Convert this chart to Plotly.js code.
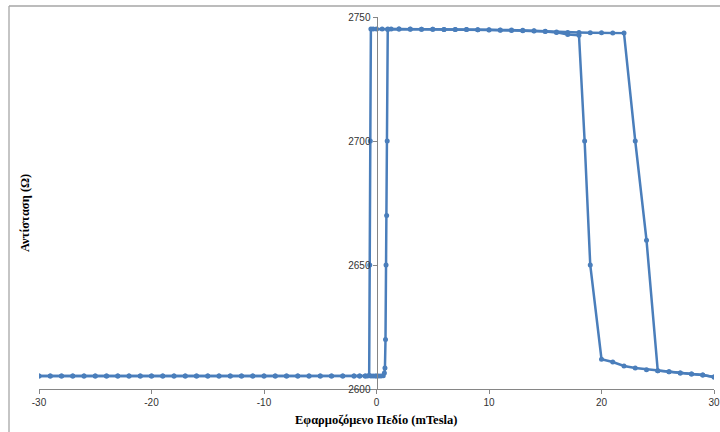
<!DOCTYPE html>
<html>
<head>
<meta charset="utf-8">
<script src="https://cdn.plot.ly/plotly-3.0.1.min.js"></script>
<style>html,body{margin:0;padding:0;background:#fff;}</style>
</head>
<body>
<div id="chart" style="width:720px;height:432px;"></div>
<script>
// Increasing field sweep
var upField = [-30,-29,-28,-27,-26,-25,-24,-23,-22,-21,-20,-19,-18,-17,-16,-15,-14,-13,-12,-11,-10,-9,-8,-7,-6,-5,-4,-3,-2,
  -1.5,-1,-0.5,-0.3,-0.1,0,0.2,0.4,0.6,
  0.7,0.75,0.8,0.85,0.9,0.95,1,1.3,
  2,3,4,5,6,7,8,9,10,11,12,13,14,15,16,17,18,19,20,21,22,23,24,25,26,27,28,29,30];
var upR = [2605.2,2605.2,2605.2,2605.2,2605.2,2605.2,2605.2,2605.2,2605.2,2605.2,2605.2,2605.2,2605.2,2605.2,2605.2,2605.2,2605.2,2605.2,2605.2,2605.2,2605.2,2605.2,2605.2,2605.2,2605.2,2605.2,2605.2,2605.2,2605.2,
  2605.2,2605.2,2605.2,2605.2,2605.2,2605.2,2605.2,2605.2,2605.3,
  2606.5,2608.5,2620,2650,2670,2700,2745,2745.2,
  2745.2,2745.2,2745.1,2745.1,2745,2745,2745,2744.9,2744.9,2744.8,2744.8,2744.7,2744.5,2744.3,2744,2743.8,2743.7,2743.6,2743.6,2743.5,2743.5,2700,2660,2607.4,2607,2606.5,2606,2605.6,2604.8];

// Decreasing field sweep
var downField = [30,29,28,27,26,25,24,23,22,21,20,
  19,18.5,
  18,17,16,15,14,13,12,11,10,9,8,7,6,5,4,3,2,
  1,0.5,0,-0.3,-0.5,
  -0.55,-0.6,-0.65,-0.8,-1,-1.5,
  -2,-3,-4,-5,-6,-7,-8,-9,-10,-11,-12,-13,-14,-15,-16,-17,-18,-19,-20,-21,-22,-23,-24,-25,-26,-27,-28,-29,-30];
var downR = [2604.8,2605.6,2606,2606.5,2607,2607.4,2607.8,2608.5,2609.3,2610.9,2612,
  2650,2700,
  2742.6,2742.9,2743.8,2744.2,2744.4,2744.5,2744.6,2744.7,2744.8,2744.9,2745,2745,2745,2745.1,2745.1,2745.1,2745.2,
  2745.2,2745.2,2745.2,2745.2,2745.2,
  2700,2650,2605.4,2605.2,2605.2,2605.2,
  2605.2,2605.2,2605.2,2605.2,2605.2,2605.2,2605.2,2605.2,2605.2,2605.2,2605.2,2605.2,2605.2,2605.2,2605.2,2605.2,2605.2,2605.2,2605.2,2605.2,2605.2,2605.2,2605.2,2605.2,2605.2,2605.2,2605.2,2605.2,2605.2];

var xTickVals = [-30,-20,-10,0,10,20,30];
var yTickVals = [2600,2650,2700,2750];
var xTitle = 'Εφαρμοζόμενο Πεδίο (mTesla)';
var yTitle = 'Αντίσταση (Ω)';

var lineColor = '#4A7EBB';
function sweep(x, y) {
  return {
    x: x, y: y, type: 'scatter', mode: 'lines+markers',
    line: {color: lineColor, width: 2.5},
    marker: {color: lineColor, size: 5, symbol: 'circle'},
    showlegend: false, hoverinfo: 'x+y'
  };
}

var L = 39, R = 6, T = 17, B = 43, W = 720, H = 432;
var pw = W - L - R, ph = H - T - B;
function px(p) { return (p - L) / pw; }
function py(p) { return 1 - (p - T) / ph; }

var axisGray = '#868686';
var layout = {
  width: W, height: H,
  margin: {l: L, r: R, t: T, b: B, pad: 0},
  paper_bgcolor: '#ffffff', plot_bgcolor: '#ffffff',
  font: {family: 'Liberation Sans, Arial, sans-serif', size: 10, color: '#333333'},
  xaxis: {
    range: [-30, 30], tickvals: xTickVals, ticktext: xTickVals.map(String),
    showgrid: false, zeroline: false, showline: true, linecolor: axisGray, linewidth: 1,
    ticks: 'outside', ticklen: 4, tickcolor: axisGray, tickfont: {size: 10, color: '#333333'}
  },
  yaxis: {
    range: [2600, 2750], tickvals: yTickVals, ticktext: yTickVals.map(String),
    anchor: 'free', position: 0.5,
    showgrid: false, zeroline: false, showline: true, linecolor: axisGray, linewidth: 1,
    ticks: 'outside', ticklen: 4, tickcolor: axisGray, tickfont: {size: 10, color: '#333333'}
  },
  annotations: [
    {text: '<b>' + xTitle + '</b>', xref: 'paper', yref: 'paper', x: px(376), y: py(420),
     xanchor: 'center', yanchor: 'middle', showarrow: false,
     font: {family: 'Liberation Serif, Times New Roman, serif', size: 12.5, color: '#000000'}},
    {text: '<b>' + yTitle + '</b>', xref: 'paper', yref: 'paper', x: px(25), y: py(213),
     xanchor: 'center', yanchor: 'middle', showarrow: false, textangle: -90,
     font: {family: 'Liberation Serif, Times New Roman, serif', size: 12.5, color: '#000000'}}
  ],
  shapes: [
    {type: 'line', xref: 'paper', yref: 'paper', x0: px(9), x1: px(9), y0: py(6), y1: py(440),
     line: {color: '#a6a6a6', width: 1.3}},
    {type: 'line', xref: 'paper', yref: 'paper', x0: px(9), x1: px(730), y0: py(6), y1: py(6),
     line: {color: '#a6a6a6', width: 1.3}}
  ]
};

Plotly.newPlot('chart', [sweep(upField, upR), sweep(downField, downR)], layout, {displayModeBar: false, staticPlot: true});
</script>
</body>
</html>
